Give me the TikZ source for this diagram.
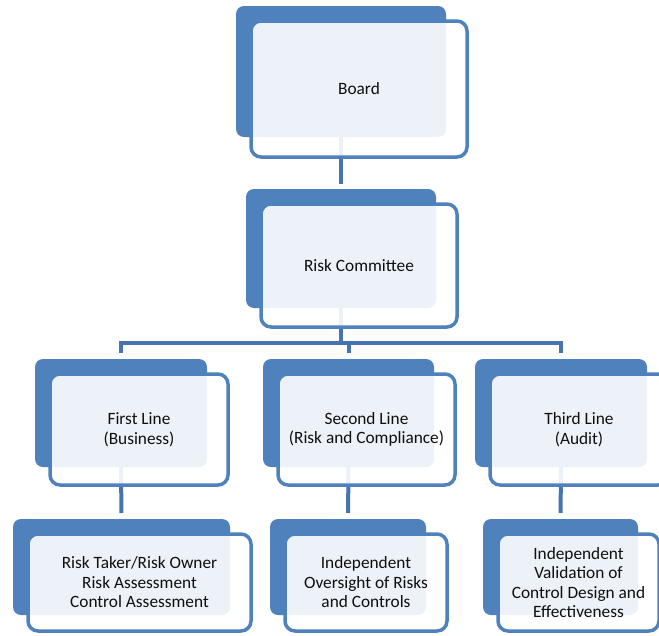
\documentclass[tikz,border=0pt]{standalone}
\usepackage{fontspec}
\setmainfont{Carlito}
\usepackage{tikz}
\usetikzlibrary{calc,backgrounds}
\definecolor{boxblue}{RGB}{79,129,189}
\definecolor{linkblue}{RGB}{69,116,176}
\definecolor{textgray}{RGB}{15,15,15}
\newcommand{\frontshift}{15pt}
\newcommand{\frontgrow}{6pt}
% back plate + framed front card, text sits on the card
\newcommand{\orgunit}[7]{%
  \node[backbox, minimum width=#4, minimum height=#5] (#1-back) at (#2,#3) {};
  \node[frontbox, minimum width=#4+\frontgrow, minimum height=#5+#6]
    (#1) at ([shift={(\frontshift,-\frontshift)}]#1-back.north west) {#7};
}
\tikzset{
    backbox/.style={rectangle, rounded corners=8pt, fill=boxblue, inner sep=0pt, outer sep=0pt},
    frontbox/.style={rectangle, rounded corners=10pt, draw=boxblue, line width=3.5pt,
        fill=white, fill opacity=0.9, text opacity=1, anchor=north west,
        inner sep=0pt, outer sep=0pt, align=center, text=textgray,
        font=\fontsize{17.3}{19.5}\selectfont},
    link/.style={draw=linkblue, line width=4pt}
}
\begin{document}
\begin{tikzpicture}[x=1pt, y=1pt]
    \useasboundingbox (0,0) rectangle (659,-635);

    \orgunit{board}{341}{-71.5}{210pt}{131pt}{5pt}{Board}
    \orgunit{committee}{341}{-248.5}{190pt}{119pt}{4pt}{Risk Committee}

    \orgunit{first}{121}{-413}{172pt}{108pt}{3pt}{First Line\\(Business)}
    \orgunit{second}{348.5}{-413}{171pt}{108pt}{3pt}{Second Line\\(Risk and Compliance)}
    \orgunit{third}{561}{-413}{172pt}{108pt}{3pt}{Third Line\\(Audit)}

    \orgunit{owner}{121.5}{-567}{217pt}{96pt}{1pt}{Risk Taker/Risk Owner\\Risk Assessment\\Control Assessment}
    \orgunit{oversight}{348}{-567}{156pt}{96pt}{1pt}{Independent\\Oversight of Risks\\and Controls}
    \orgunit{validation}{560.5}{-567}{155pt}{96pt}{1pt}{Independent\\Validation of\\Control Design and\\Effectiveness}

    \begin{scope}[on background layer]
        \draw[link, shorten >=5pt] (board-back.south) -- (committee-back.north);
        \coordinate (bus) at ($(committee-back.south)+(0,-35)$);
        \draw[link] (committee-back.south) -- (bus);
        \draw[link, shorten <=6pt, shorten >=6pt] (first-back.north) |- (bus) -| (third-back.north);
        \draw[link, shorten <=6pt] (second-back.north) -- (second-back.north |- bus);
        \draw[link, shorten >=6pt] (first-back.south) -- (owner-back.north);
        \draw[link, shorten >=6pt] (second-back.south) -- (oversight-back.north);
        \draw[link, shorten >=6pt] (third-back.south) -- (validation-back.north);
    \end{scope}
\end{tikzpicture}
\end{document}
